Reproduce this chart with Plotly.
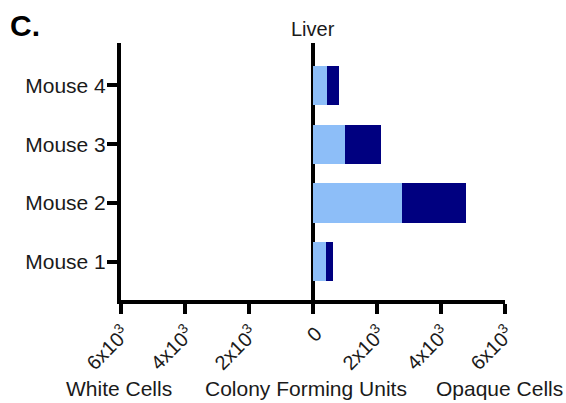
import plotly.graph_objects as go

mice = ["Mouse 1", "Mouse 2", "Mouse 3", "Mouse 4"]
light_vals = [400, 2780, 990, 450]
dark_vals = [220, 2010, 1130, 360]
tick_vals = [-6000, -4000, -2000, 0, 2000, 4000, 6000]
tick_text = ["6x10<sup>3</sup>", "4x10<sup>3</sup>", "2x10<sup>3</sup>", "0",
             "2x10<sup>3</sup>", "4x10<sup>3</sup>", "6x10<sup>3</sup>"]

ypos = list(range(len(mice)))
FONT = "Arial, Liberation Sans, sans-serif"
TXT = "#1a1a1a"

L, R, T, B = 121, 61, 43, 103
W, H = 566, 403
PW, PH = W - L - R, H - T - B

fig = go.Figure()
fig.add_trace(go.Bar(y=ypos, x=light_vals, orientation="h", marker_color="#8DBEF8",
                     marker_line_width=0, width=0.665, name="light"))
fig.add_trace(go.Bar(y=ypos, x=dark_vals, orientation="h", marker_color="#000080",
                     marker_line_width=0, width=0.665, name="dark"))

fig.update_layout(
    barmode="stack",
    width=W, height=H,
    margin=dict(l=L, r=R, t=T, b=B),
    paper_bgcolor="white", plot_bgcolor="white",
    showlegend=False,
    font=dict(family=FONT, color=TXT),
    xaxis=dict(range=[-6000, 6000], tickvals=tick_vals, ticktext=tick_text,
               tickangle=-45, showline=True, linewidth=4, linecolor="black",
               ticks="outside", ticklen=10, tickwidth=3.5, tickcolor="black",
               showgrid=False, zeroline=True, zerolinewidth=3.5, zerolinecolor="black",
               ticklabelshift=3,
               tickfont=dict(size=20, family=FONT, color=TXT)),
    yaxis=dict(range=[-0.65, 3.72], tickvals=ypos, ticktext=mice,
               showline=True, linewidth=4, linecolor="black",
               ticks="outside", ticklen=10, tickwidth=3.5, tickcolor="black",
               showgrid=False, zeroline=False, ticklabelstandoff=-3,
               tickfont=dict(size=21, family=FONT, color=TXT)),
)

fig.add_annotation(text="Liver", x=0, xref="x", y=1 + 14 / PH, yref="paper",
                   yanchor="middle", showarrow=False,
                   font=dict(size=20, family=FONT, color=TXT))
fig.add_annotation(text="<b>C.</b>", x=(8 - L) / PW, xref="paper", xanchor="left",
                   y=1 + 18 / PH, yref="paper", yanchor="middle", showarrow=False,
                   font=dict(size=30, family=FONT, color="black"))
for txt, xv, xs in [("White Cells", -6000, -2), ("Colony Forming Units", 0, -7),
                    ("Opaque Cells", 6000, -6)]:
    fig.add_annotation(text=txt, x=xv, xref="x", xshift=xs, y=-88 / PH, yref="paper",
                       yanchor="middle", showarrow=False,
                       font=dict(size=21, family=FONT, color=TXT))

fig.write_html("out.html")
